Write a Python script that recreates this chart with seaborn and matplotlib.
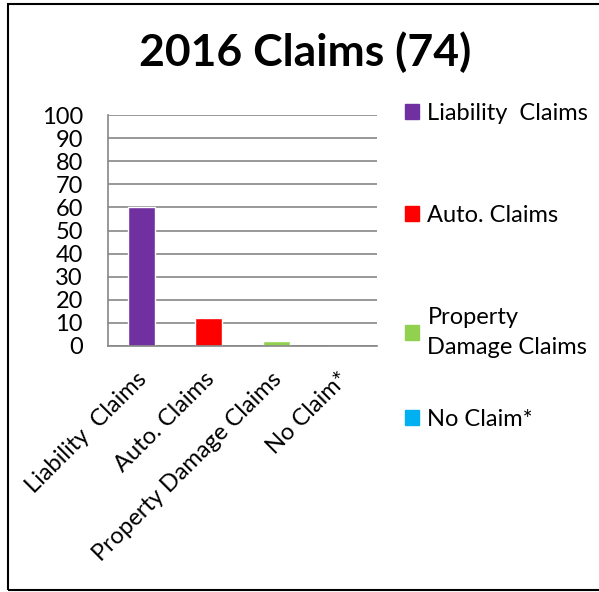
import matplotlib
matplotlib.use("Agg")
import matplotlib.pyplot as plt
import matplotlib.patches as mpatches
from matplotlib.transforms import ScaledTranslation
import seaborn as sns
import pandas as pd

# ------ data ------
categories = ["Liability  Claims", "Auto. Claims", "Property Damage Claims", "No Claim*"]
legend_labels = ["Liability  Claims", "Auto. Claims", "Property\nDamage Claims", "No Claim*"]
claims = [60, 12, 2, 0]
colors = ["#7030A0", "#FF0000", "#92D050", "#00B0F0"]
yticks = list(range(0, 101, 10))
title = "2016 Claims (74)"

df = pd.DataFrame({"category": categories, "claims": claims})

sns.set_style("white")
plt.rcParams["font.family"] = ["Lato", "DejaVu Sans"]
plt.rcParams["text.color"] = "black"
plt.rcParams["xtick.color"] = "black"
plt.rcParams["ytick.color"] = "black"

GRAY = "#868686"
FS = 17

fig = plt.figure(figsize=(5.99, 5.92), dpi=100)
ax = fig.add_axes([108 / 599, 1 - 346 / 592, (377 - 108) / 599, (346 - 115) / 592])

sns.barplot(data=df, x="category", y="claims", hue="category",
            palette=colors, width=0.4, legend=False, ax=ax, saturation=1)

ax.set_xlim(-0.5, len(categories) - 0.5)
ax.set_ylim(0, 100)
ax.set_yticks(yticks)
ax.set_yticklabels([str(t) for t in yticks], fontsize=FS)
ax.yaxis.grid(True, color=GRAY, linewidth=1.2)
ax.set_axisbelow(True)
ax.set_xlabel("")
ax.set_ylabel("")

# category ticks sit between bars, labels at bar centers
ax.set_xticks([i - 0.5 for i in range(len(categories) + 1)], minor=False)
ax.set_xticklabels([])
ax.set_xticks(range(len(categories)), minor=True)
ax.set_xticklabels(categories, minor=True, rotation=45, ha="right",
                   rotation_mode="anchor", fontsize=FS)
ax.tick_params(axis="x", which="major", length=6, color=GRAY, width=1.2)
ax.tick_params(axis="x", which="minor", length=0, pad=12)
ax.tick_params(axis="y", length=6, color=GRAY, width=1.2, pad=12)
shift = ScaledTranslation(-4 / 72, -4 / 72, fig.dpi_scale_trans)
for lbl in ax.get_xticklabels(minor=True):
    lbl.set_transform(lbl.get_transform() + shift)

for side in ["top", "right"]:
    ax.spines[side].set_visible(False)
for side in ["left", "bottom"]:
    ax.spines[side].set_color(GRAY)
    ax.spines[side].set_linewidth(1.2)

fig.suptitle(title, fontsize=32, fontweight="bold", x=305 / 599, y=1 - 31 / 592, va="top")

# ------ legend (last entry placed on its own to keep Excel-like spacing) ------
handles = [mpatches.Patch(color=c, label=l) for c, l in zip(colors, legend_labels)]
leg_kw = dict(frameon=False, fontsize=FS, handlelength=0.6, handleheight=0.6,
              handletextpad=0.35, borderaxespad=0, borderpad=0)
leg1 = fig.legend(handles=handles[:3], loc="upper left",
                  bbox_to_anchor=(405 / 599, 1 - 103 / 592), labelspacing=3.42, **leg_kw)
for t in leg1.get_texts():
    t.set_linespacing(1.55)
leg2 = fig.legend(handles=handles[3:], loc="upper left",
                  bbox_to_anchor=(405 / 599, 1 - 409 / 592), **leg_kw)

# outer chart border
fig.patches.append(mpatches.Rectangle((8 / 599, 2 / 592), 1.0, 1 - 6 / 592,
                                      transform=fig.transFigure, fill=False,
                                      edgecolor="black", linewidth=1.5))

fig.savefig("out.png", dpi=100)
plt.close(fig)
